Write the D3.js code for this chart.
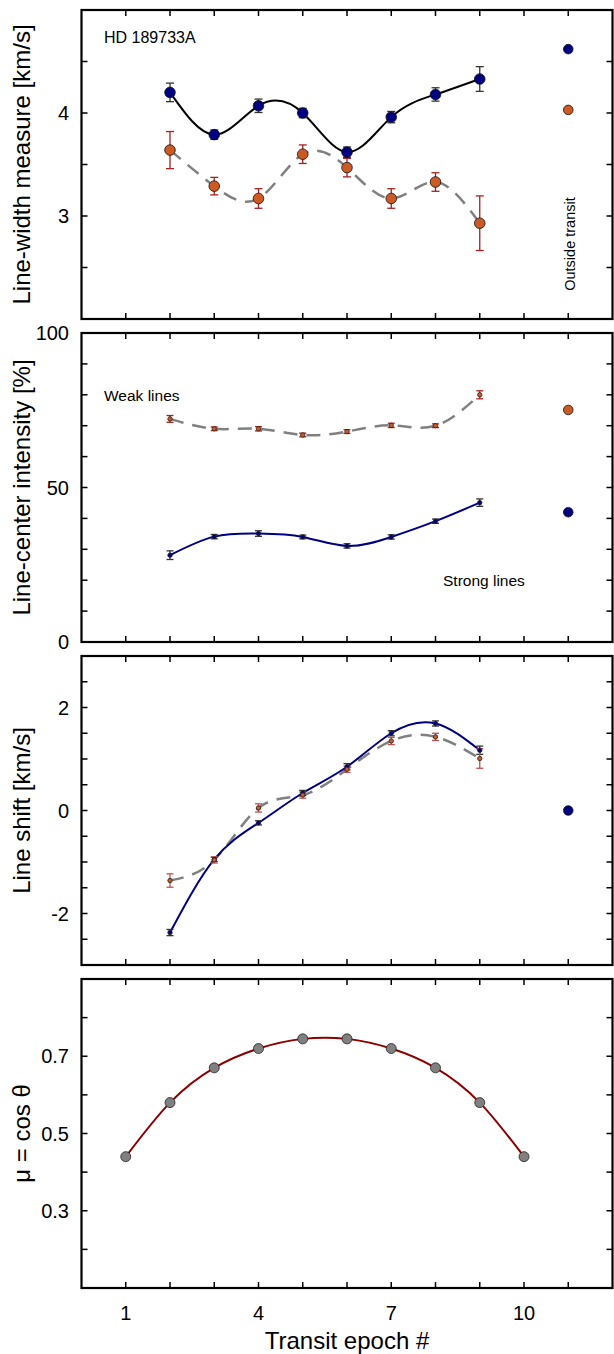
<!DOCTYPE html>
<html>
<head>
<meta charset="utf-8">
<script src="https://cdn.jsdelivr.net/npm/d3@7"></script>
<style>
  html, body { margin: 0; padding: 0; background: #fff; }
  svg { display: block; font-family: "Liberation Sans", Arial, sans-serif; }
</style>
</head>
<body>
<svg id="chart" width="614" height="1354"></svg>
<script>
// ---------- data ----------
const epochs = [2, 3, 4, 5, 6, 7, 8, 9];
const outsideEpoch = 11;

const widthStrong    = [4.20, 3.79, 4.07, 4.00, 3.62, 3.96, 4.18, 4.33];
const widthStrongErr = [0.09, 0.045, 0.065, 0.045, 0.05, 0.055, 0.065, 0.12];
const widthWeak      = [3.64, 3.29, 3.17, 3.60, 3.47, 3.17, 3.33, 2.93];
const widthWeakErr   = [0.18, 0.085, 0.095, 0.09, 0.09, 0.095, 0.09, 0.265];
const widthStrongOut = 4.62;
const widthWeakOut   = 4.03;

const intensityWeak      = [72.2, 69.0, 69.0, 67.0, 68.1, 70.1, 70.0, 80.0];
const intensityWeakErr   = [1.1, 0.6, 0.7, 0.6, 0.6, 0.7, 0.6, 1.3];
const intensityStrong    = [28.1, 34.1, 35.1, 34.0, 31.1, 34.0, 39.1, 45.1];
const intensityStrongErr = [1.4, 0.7, 0.9, 0.6, 0.7, 0.7, 0.7, 1.2];
const intensityWeakOut   = 75.1;
const intensityStrongOut = 42.0;

const shiftStrong    = [-2.37, -0.95, -0.24, 0.34, 0.85, 1.50, 1.69, 1.17];
const shiftStrongErr = [0.06, 0.04, 0.04, 0.05, 0.06, 0.05, 0.05, 0.08];
const shiftWeak      = [-1.36, -0.96, 0.05, 0.30, 0.80, 1.35, 1.43, 1.01];
const shiftWeakErr   = [0.13, 0.06, 0.08, 0.06, 0.06, 0.07, 0.07, 0.19];
const shiftStrongOut = 0.0;

const muEpochs = [1, 2, 3, 4, 5, 6, 7, 8, 9, 10];
const muValues = [0.44, 0.58, 0.67, 0.72, 0.745, 0.745, 0.72, 0.67, 0.58, 0.44];

const xTickLabels = [1, 4, 7, 10];

// ---------- layout ----------
const svg = d3.select("#chart");
const left = 81.5, right = 612.5;
const panelH = 309;
const tops = [10, 333, 656, 979];
const x = d3.scaleLinear().domain([0, 12]).range([left, right]);

const BLUE = "#000080", ORANGE = "#cc5a24", GRAY = "#808080";
const ERR_DARK = "#333333", ERR_RED = "#a82020";

function makePanel(i, domain, majors, minorStep, label) {
  const top = tops[i], bottom = top + panelH;
  const y = d3.scaleLinear().domain(domain).range([bottom, top]);
  const g = svg.append("g");
  const ticks = d3.range(domain[0], domain[1] + minorStep / 2, minorStep);
  ticks.forEach(v => {
    const yy = y(v);
    g.append("line").attr("x1", left).attr("x2", left + 6).attr("y1", yy).attr("y2", yy)
      .attr("stroke", "#000").attr("stroke-width", 1.5);
    g.append("line").attr("x1", right).attr("x2", right - 6).attr("y1", yy).attr("y2", yy)
      .attr("stroke", "#000").attr("stroke-width", 1.5);
  });
  d3.range(1, 12).forEach(v => {
    const xx = x(v);
    g.append("line").attr("x1", xx).attr("x2", xx).attr("y1", top).attr("y2", top + 6)
      .attr("stroke", "#000").attr("stroke-width", 1.5);
    g.append("line").attr("x1", xx).attr("x2", xx).attr("y1", bottom).attr("y2", bottom - 6)
      .attr("stroke", "#000").attr("stroke-width", 1.5);
  });
  majors.forEach(m => {
    g.append("text").attr("x", 69).attr("y", y(m.v)).attr("dy", "0.36em")
      .attr("text-anchor", "end").attr("font-size", 20).attr("fill", "#000").text(m.t);
  });
  g.append("text")
    .attr("transform", `translate(30,${(top + bottom) / 2}) rotate(-90)`)
    .attr("text-anchor", "middle").attr("font-size", 24).attr("fill", "#000").text(label);
  const content = svg.append("g");
  return { y, g: content, top, bottom };
}

function drawFrame(p) {
  svg.append("rect").attr("x", left).attr("y", p.top).attr("width", right - left)
    .attr("height", panelH).attr("fill", "none").attr("stroke", "#000").attr("stroke-width", 2.2);
}

function curve(p, xs, ys, color, width, dash) {
  const line = d3.line().x((d, i) => x(xs[i])).y(d => p.y(d)).curve(d3.curveNatural);
  const path = p.g.append("path").attr("d", line(ys)).attr("fill", "none")
    .attr("stroke", color).attr("stroke-width", width);
  if (dash) path.attr("stroke-dasharray", dash);
}

function errorBars(p, xs, ys, es, color, cap) {
  ys.forEach((v, i) => {
    const xx = x(xs[i]), y1 = p.y(v - es[i]), y2 = p.y(v + es[i]);
    p.g.append("line").attr("x1", xx).attr("x2", xx).attr("y1", y1).attr("y2", y2)
      .attr("stroke", color).attr("stroke-width", 1.3);
    [y1, y2].forEach(yy => p.g.append("line").attr("x1", xx - cap).attr("x2", xx + cap)
      .attr("y1", yy).attr("y2", yy).attr("stroke", color).attr("stroke-width", 1.3));
  });
}

function dots(p, xs, ys, fill, r, stroke) {
  ys.forEach((v, i) => {
    p.g.append("circle").attr("cx", x(xs[i])).attr("cy", p.y(v)).attr("r", r)
      .attr("fill", fill).attr("stroke", stroke || "#111").attr("stroke-width", 0.8);
  });
}

// ---------- panel 1 ----------
const p1 = makePanel(0, [2, 5], [{v: 3, t: "3"}, {v: 4, t: "4"}], 0.5, "Line-width measure [km/s]");
curve(p1, epochs, widthWeak, GRAY, 2.5, "14,9");
curve(p1, epochs, widthStrong, "#000", 2);
errorBars(p1, epochs, widthWeak, widthWeakErr, ERR_RED, 4);
errorBars(p1, epochs, widthStrong, widthStrongErr, ERR_DARK, 4);
dots(p1, epochs, widthWeak, ORANGE, 5.3);
dots(p1, epochs, widthStrong, BLUE, 5.3);
dots(p1, [outsideEpoch], [widthStrongOut], BLUE, 4.8);
dots(p1, [outsideEpoch], [widthWeakOut], ORANGE, 4.8);
p1.g.append("text").attr("x", 104).attr("y", 43).attr("font-size", 16).text("HD 189733A");
p1.g.append("text").attr("transform", `translate(575,244) rotate(-90)`)
  .attr("text-anchor", "middle").attr("font-size", 14.5).text("Outside transit");
drawFrame(p1);

// ---------- panel 2 ----------
const p2 = makePanel(1, [0, 100], [{v: 0, t: "0"}, {v: 50, t: "50"}, {v: 100, t: "100"}], 10, "Line-center intensity [%]");
curve(p2, epochs, intensityWeak, GRAY, 2.5, "14,9");
curve(p2, epochs, intensityStrong, BLUE, 2);
errorBars(p2, epochs, intensityWeak, intensityWeakErr, ERR_RED, 3.5);
errorBars(p2, epochs, intensityStrong, intensityStrongErr, ERR_DARK, 3.5);
dots(p2, epochs, intensityWeak, ORANGE, 2.2, "#222");
dots(p2, epochs, intensityStrong, BLUE, 2.2, "#222");
dots(p2, [outsideEpoch], [intensityWeakOut], ORANGE, 4.8);
dots(p2, [outsideEpoch], [intensityStrongOut], BLUE, 4.8);
p2.g.append("text").attr("x", 104).attr("y", 401).attr("font-size", 15.5).text("Weak lines");
p2.g.append("text").attr("x", 443).attr("y", 586).attr("font-size", 15.5).text("Strong lines");
drawFrame(p2);

// ---------- panel 3 ----------
const p3 = makePanel(2, [-3, 3], [{v: -2, t: "-2"}, {v: 0, t: "0"}, {v: 2, t: "2"}], 0.5, "Line shift [km/s]");
curve(p3, epochs, shiftWeak, GRAY, 2.5, "14,9");
curve(p3, epochs, shiftStrong, BLUE, 2);
errorBars(p3, epochs, shiftStrong, shiftStrongErr, ERR_DARK, 3.5);
errorBars(p3, epochs, shiftWeak, shiftWeakErr, "#c05050", 3.5);
dots(p3, epochs, shiftStrong, BLUE, 2.2, "#222");
dots(p3, epochs, shiftWeak, ORANGE, 2.2, "#222");
dots(p3, [outsideEpoch], [shiftStrongOut], BLUE, 4.8);
drawFrame(p3);

// ---------- panel 4 ----------
const p4 = makePanel(3, [0.1, 0.9], [{v: 0.3, t: "0.3"}, {v: 0.5, t: "0.5"}, {v: 0.7, t: "0.7"}], 0.1, "\u03bc = cos \u03b8");
curve(p4, muEpochs, muValues, "#8b0000", 2);
dots(p4, muEpochs, muValues, GRAY, 5, "#222");
drawFrame(p4);

xTickLabels.forEach(v => {
  svg.append("text").attr("x", x(v)).attr("y", 1320).attr("text-anchor", "middle")
    .attr("font-size", 20).text(v);
});
svg.append("text").attr("x", (left + right) / 2).attr("y", 1349).attr("text-anchor", "middle")
  .attr("font-size", 24).text("Transit epoch #");
</script>
</body>
</html>
